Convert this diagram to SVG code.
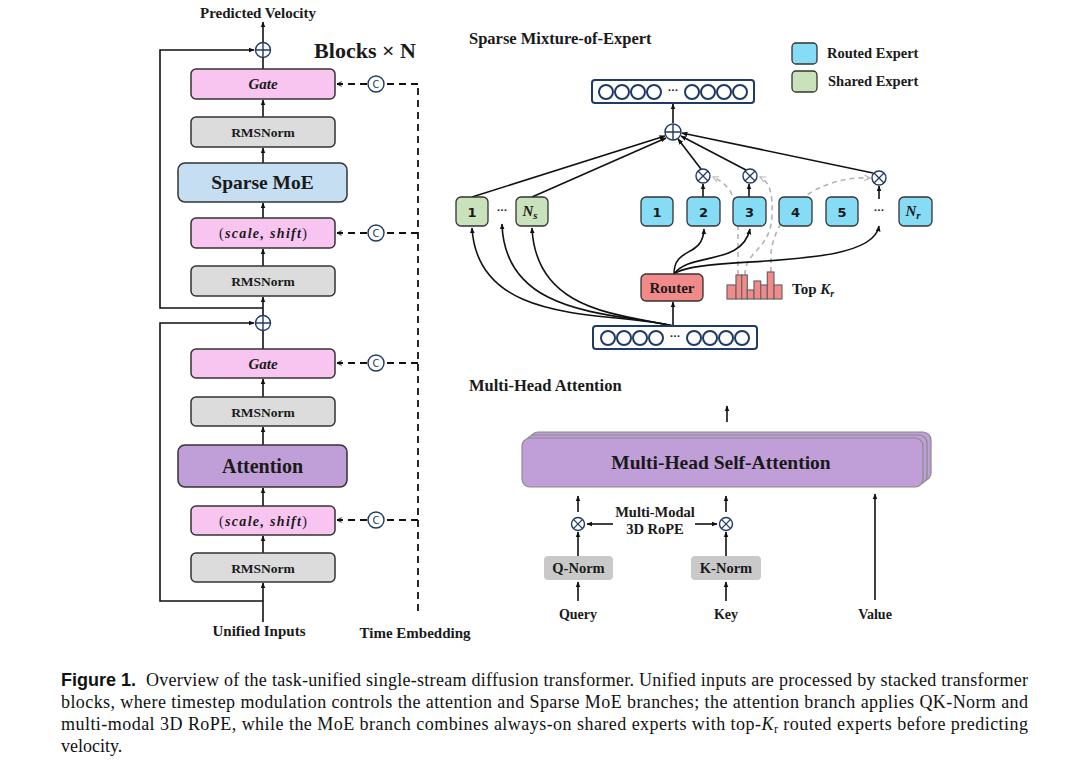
<svg xmlns="http://www.w3.org/2000/svg" width="1080" height="767" viewBox="0 0 1080 767">
<style>
.t{font-family:"Liberation Serif","Times New Roman",serif;font-weight:bold;fill:#1a1a1a}
.s{font-family:"DejaVu Sans","Liberation Sans",sans-serif;font-weight:bold;fill:#1a1a1a}
.mi{font-family:"Liberation Serif",serif;font-weight:bold;font-style:italic}
.box{stroke:#333;stroke-width:1.5}
.pink{fill:#F8C4F0}
.gray{fill:#DCDCDC}
.routed{fill:#86DBF5;stroke:#333;stroke-width:1.3}
.shared{fill:#C9E2BB;stroke:#333;stroke-width:1.3}
.ln{stroke:#111;stroke-width:1.6;fill:none}
.dash{stroke:#111;stroke-width:1.8;fill:none;stroke-dasharray:7,5}
.gdash{stroke:#B4B4B4;stroke-width:1.6;fill:none;stroke-dasharray:5,4}
.op{stroke:#1F3A64;stroke-width:1.4;fill:#fff}
.tok{stroke:#1F3A64;stroke-width:2;fill:#fff}
.cap{font-family:"Liberation Serif","Times New Roman",serif;font-size:18px;fill:#111}
</style>
<defs>
<marker id="ah" viewBox="0 0 10 10" refX="9" refY="5" markerWidth="6" markerHeight="6" markerUnits="userSpaceOnUse" orient="auto"><path d="M0,1 L10,5 L0,9 z" fill="#111"/></marker>
<marker id="ahg" viewBox="0 0 10 10" refX="9" refY="5" markerWidth="7" markerHeight="7" markerUnits="userSpaceOnUse" orient="auto"><path d="M1,1 L9,5 L1,9" fill="none" stroke="#B4B4B4" stroke-width="1.6"/></marker>
<marker id="aho" viewBox="0 0 10 10" refX="9" refY="5" markerWidth="6" markerHeight="6" markerUnits="userSpaceOnUse" orient="auto"><path d="M1,1 L9,5 L1,9" fill="none" stroke="#111" stroke-width="1.5"/></marker>
</defs>
<rect width="1080" height="767" fill="#fff"/>

<!-- connectors -->
<g id="connectors">
  <!-- left column main path -->
  <line class="ln" x1="263" y1="43" x2="263" y2="22" marker-end="url(#ah)"/>
  <line class="ln" x1="263" y1="69" x2="263" y2="58"/>
  <line class="ln" x1="263" y1="117" x2="263" y2="100" marker-end="url(#ah)"/>
  <line class="ln" x1="263" y1="163" x2="263" y2="148" marker-end="url(#ah)"/>
  <line class="ln" x1="263" y1="218" x2="263" y2="203" marker-end="url(#ah)"/>
  <line class="ln" x1="263" y1="266" x2="263" y2="249" marker-end="url(#ah)"/>
  <line class="ln" x1="263" y1="315" x2="263" y2="297" marker-end="url(#ah)"/>
  <polyline class="ln" points="263,308 160,308 160,50 254,50" marker-end="url(#ah)"/>
  <line class="ln" x1="263" y1="349" x2="263" y2="331"/>
  <line class="ln" x1="263" y1="397" x2="263" y2="379" marker-end="url(#ah)"/>
  <line class="ln" x1="263" y1="445" x2="263" y2="427" marker-end="url(#ah)"/>
  <line class="ln" x1="263" y1="506" x2="263" y2="488" marker-end="url(#ah)"/>
  <line class="ln" x1="263" y1="553" x2="263" y2="536" marker-end="url(#ah)"/>
  <line class="ln" x1="263" y1="622" x2="263" y2="583" marker-end="url(#ah)"/>
  <polyline class="ln" points="263,601 160,601 160,323 254,323" marker-end="url(#ah)"/>
  <!-- time embedding dashed -->
  <line class="dash" x1="418" y1="88" x2="418" y2="616"/>
  <line class="dash" x1="418" y1="84" x2="385" y2="84"/>
  <line class="dash" x1="367" y1="84" x2="337" y2="84" marker-end="url(#aho)"/>
  <line class="dash" x1="418" y1="233" x2="385" y2="233"/>
  <line class="dash" x1="367" y1="233" x2="337" y2="233" marker-end="url(#aho)"/>
  <line class="dash" x1="418" y1="363" x2="385" y2="363"/>
  <line class="dash" x1="367" y1="363" x2="337" y2="363" marker-end="url(#aho)"/>
  <line class="dash" x1="418" y1="520" x2="385" y2="520"/>
  <line class="dash" x1="367" y1="520" x2="337" y2="520" marker-end="url(#aho)"/>

  <!-- MoE: gray dashed top-K selections -->
  <path class="gdash" d="M738,275 L738,228 C738,200 731,185 713,177" marker-end="url(#ahg)"/>
  <path class="gdash" d="M745,275 C745,250 771,250 772,215 C773,195 770,182 760,177" marker-end="url(#ahg)"/>
  <path class="gdash" d="M771,272 L771,252 C774,228 790,206 810,193 C830,181 850,177 870,178" marker-end="url(#ahg)"/>

  <!-- MoE: combine into plus -->
  <line class="ln" x1="673" y1="123" x2="673" y2="104" marker-end="url(#ah)"/>
  <line class="ln" x1="472" y1="197" x2="665" y2="136" marker-end="url(#ah)"/>
  <line class="ln" x1="532" y1="197" x2="666" y2="138" marker-end="url(#ah)"/>
  <line class="ln" x1="701" y1="169" x2="678" y2="139" marker-end="url(#ah)"/>
  <line class="ln" x1="746" y1="170" x2="681" y2="136" marker-end="url(#ah)"/>
  <line class="ln" x1="873" y1="173" x2="682" y2="133" marker-end="url(#ah)"/>
  <!-- experts to multipliers -->
  <line class="ln" x1="703" y1="197" x2="703" y2="184" marker-end="url(#ah)"/>
  <line class="ln" x1="749" y1="197" x2="749" y2="184" marker-end="url(#ah)"/>
  <line class="ln" x1="879" y1="199" x2="879" y2="186" marker-end="url(#ah)"/>
  <!-- router to experts -->
  <path class="ln" d="M674,274 C674,246 703,258 704,229" marker-end="url(#ah)"/>
  <path class="ln" d="M674,274 C690,252 742,266 750,229" marker-end="url(#ah)"/>
  <path class="ln" d="M674,274 C700,254 872,272 879,226" marker-end="url(#ah)"/>
  <!-- tokens to router and shared experts -->
  <line class="ln" x1="673" y1="326" x2="673" y2="302" marker-end="url(#ah)"/>
  <path class="ln" d="M673,326 C610,310 478,328 472,228" marker-end="url(#ah)"/>
  <path class="ln" d="M673,326 C615,312 505,318 502,224" marker-end="url(#ah)"/>
  <path class="ln" d="M673,326 C620,314 536,312 532,228" marker-end="url(#ah)"/>

  <!-- attention -->
  <line class="ln" x1="727" y1="422" x2="727" y2="406" marker-end="url(#ah)"/>
  <line class="ln" x1="578" y1="512" x2="578" y2="496" marker-end="url(#ah)"/>
  <line class="ln" x1="726" y1="512" x2="726" y2="496" marker-end="url(#ah)"/>
  <line class="ln" x1="578" y1="556" x2="578" y2="532" marker-end="url(#ah)"/>
  <line class="ln" x1="726" y1="556" x2="726" y2="532" marker-end="url(#ah)"/>
  <line class="ln" x1="578" y1="601" x2="578" y2="582" marker-end="url(#ah)"/>
  <line class="ln" x1="726" y1="601" x2="726" y2="582" marker-end="url(#ah)"/>
  <line class="ln" x1="875" y1="600" x2="875" y2="494" marker-end="url(#ah)"/>
  <line class="ln" x1="613" y1="524" x2="587" y2="524" marker-end="url(#ah)"/>
  <line class="ln" x1="695" y1="524" x2="717" y2="524" marker-end="url(#ah)"/>
</g>

<!-- left column -->
<text class="t" x="258" y="18" font-size="15" text-anchor="middle">Predicted Velocity</text>
<text x="365" y="58" font-size="22" text-anchor="middle" font-family="Liberation Serif, serif" fill="#1a1a1a" font-weight="600">Blocks × N</text>

<g id="plus-top"><circle class="op" cx="263" cy="50" r="7.5"/><path d="M255.5,50 H270.5 M263,42.5 V57.5" stroke="#1F3A64" stroke-width="1.4"/></g>
<g id="gate-top"><rect class="box pink" x="191" y="69" width="144" height="30" rx="5"/><text class="mi" x="263" y="89" font-size="15" text-anchor="middle" fill="#1a1a1a">Gate</text></g>
<g id="rmsnorm-1"><rect class="box gray" x="191" y="117" width="144" height="30" rx="5"/><text class="t" x="263" y="137" font-size="13.5" text-anchor="middle">RMSNorm</text></g>
<g id="sparse-moe"><rect class="box" fill="#C5DEF1" x="178" y="163" width="169" height="39" rx="7"/><text class="t" x="262.5" y="189" font-size="19.5" text-anchor="middle">Sparse MoE</text></g>
<g id="scale-shift-1"><rect class="box pink" x="191" y="218" width="144" height="30" rx="5"/><text x="263" y="238" font-size="14" text-anchor="middle" textLength="88" font-family="Liberation Serif, serif" fill="#1a1a1a">(<tspan class="mi">scale, shift</tspan>)</text></g>
<g id="rmsnorm-2"><rect class="box gray" x="191" y="266" width="144" height="30" rx="5"/><text class="t" x="263" y="286" font-size="13.5" text-anchor="middle">RMSNorm</text></g>

<g id="plus-mid"><circle class="op" cx="263" cy="323" r="7.5"/><path d="M255.5,323 H270.5 M263,315.5 V330.5" stroke="#1F3A64" stroke-width="1.4"/></g>
<g id="gate-bottom"><rect class="box pink" x="191" y="349" width="144" height="29" rx="5"/><text class="mi" x="263" y="368.5" font-size="15" text-anchor="middle" fill="#1a1a1a">Gate</text></g>
<g id="rmsnorm-3"><rect class="box gray" x="191" y="397" width="144" height="29" rx="5"/><text class="t" x="263" y="416.5" font-size="13.5" text-anchor="middle">RMSNorm</text></g>
<g id="attention"><rect class="box" fill="#C09ED7" x="178" y="445" width="169" height="42" rx="7"/><text class="t" x="262.5" y="473" font-size="20" text-anchor="middle">Attention</text></g>
<g id="scale-shift-2"><rect class="box pink" x="191" y="506" width="144" height="29" rx="5"/><text x="263" y="525.5" font-size="14" text-anchor="middle" textLength="88" font-family="Liberation Serif, serif" fill="#1a1a1a">(<tspan class="mi">scale, shift</tspan>)</text></g>
<g id="rmsnorm-4"><rect class="box gray" x="191" y="553" width="144" height="29" rx="5"/><text class="t" x="263" y="572.5" font-size="13.5" text-anchor="middle">RMSNorm</text></g>

<g id="concat-1"><circle class="op" cx="376" cy="84" r="8"/><text x="376" y="88" font-size="10" text-anchor="middle" font-family="DejaVu Sans, sans-serif" fill="#1F3A64">C</text></g>
<g id="concat-2"><circle class="op" cx="376" cy="233" r="8"/><text x="376" y="237" font-size="10" text-anchor="middle" font-family="DejaVu Sans, sans-serif" fill="#1F3A64">C</text></g>
<g id="concat-3"><circle class="op" cx="376" cy="363" r="8"/><text x="376" y="367" font-size="10" text-anchor="middle" font-family="DejaVu Sans, sans-serif" fill="#1F3A64">C</text></g>
<g id="concat-4"><circle class="op" cx="376" cy="520" r="8"/><text x="376" y="524" font-size="10" text-anchor="middle" font-family="DejaVu Sans, sans-serif" fill="#1F3A64">C</text></g>

<text class="t" x="259" y="636" font-size="15" text-anchor="middle">Unified Inputs</text>
<text class="t" x="415" y="638" font-size="15" text-anchor="middle">Time Embedding</text>

<!-- MoE section -->
<text class="t" x="469" y="44" font-size="16.5">Sparse Mixture-of-Expert</text>
<g id="legend-routed"><rect class="routed" x="792" y="43" width="25" height="21" rx="4"/><text class="t" x="827" y="58" font-size="14.5">Routed Expert</text></g>
<g id="legend-shared"><rect class="shared" x="792" y="71" width="25" height="21" rx="4"/><text class="t" x="828" y="86" font-size="14.5">Shared Expert</text></g>

<g id="tokens-out">
  <rect class="tok" x="592" y="80" width="162" height="23" rx="3"/>
  <circle class="tok" cx="606" cy="92" r="7"/><circle class="tok" cx="622" cy="92" r="7"/><circle class="tok" cx="638" cy="92" r="7"/><circle class="tok" cx="654" cy="92" r="7"/>
  <text class="s" x="673" y="93" font-size="9" text-anchor="middle">···</text>
  <circle class="tok" cx="692" cy="92" r="7"/><circle class="tok" cx="708" cy="92" r="7"/><circle class="tok" cx="724" cy="92" r="7"/><circle class="tok" cx="740" cy="92" r="7"/>
</g>
<g id="moe-sum"><circle class="op" cx="673" cy="132" r="8"/><path d="M665,132 H681 M673,124 V140" stroke="#1F3A64" stroke-width="1.4"/></g>
<g id="mul-2"><circle class="op" cx="703" cy="176" r="7"/><path d="M698,171 L708,181 M708,171 L698,181" stroke="#1F3A64" stroke-width="1.3"/></g>
<g id="mul-3"><circle class="op" cx="750" cy="176" r="7"/><path d="M745,171 L755,181 M755,171 L745,181" stroke="#1F3A64" stroke-width="1.3"/></g>
<g id="mul-n"><circle class="op" cx="879" cy="178" r="7"/><path d="M874,173 L884,183 M884,173 L874,183" stroke="#1F3A64" stroke-width="1.3"/></g>

<g id="shared-1"><rect class="shared" x="456" y="197" width="32" height="29" rx="5"/><text class="s" x="472" y="216.5" font-size="13" text-anchor="middle">1</text></g>
<text class="s" x="502" y="213" font-size="9" text-anchor="middle">···</text>
<g id="shared-ns"><rect class="shared" x="516" y="197" width="32" height="29" rx="5"/><text class="mi" x="530" y="216" font-size="15" text-anchor="middle" fill="#1a1a1a">N<tspan font-size="11" dy="3">s</tspan></text></g>

<g id="routed-1"><rect class="routed" x="641" y="197" width="32" height="29" rx="5"/><text class="s" x="657" y="216.5" font-size="13" text-anchor="middle">1</text></g>
<g id="routed-2"><rect class="routed" x="687" y="197" width="33" height="29" rx="5"/><text class="s" x="703.5" y="216.5" font-size="13" text-anchor="middle">2</text></g>
<g id="routed-3"><rect class="routed" x="733" y="197" width="33" height="29" rx="5"/><text class="s" x="749.5" y="216.5" font-size="13" text-anchor="middle">3</text></g>
<g id="routed-4"><rect class="routed" x="779" y="197" width="33" height="29" rx="5"/><text class="s" x="795.5" y="216.5" font-size="13" text-anchor="middle">4</text></g>
<g id="routed-5"><rect class="routed" x="826" y="197" width="32" height="29" rx="5"/><text class="s" x="842" y="216.5" font-size="13" text-anchor="middle">5</text></g>
<text class="s" x="879" y="213" font-size="9" text-anchor="middle">···</text>
<g id="routed-nr"><rect class="routed" x="899" y="197" width="33" height="29" rx="5"/><text class="mi" x="913" y="216" font-size="15" text-anchor="middle" fill="#1a1a1a">N<tspan font-size="11" dy="3">r</tspan></text></g>

<g id="router"><rect fill="#F28A8A" stroke="#333" stroke-width="1.3" x="641" y="274" width="62" height="27" rx="5"/><text class="t" x="672" y="292.5" font-size="15" text-anchor="middle">Router</text></g>
<g id="topk-hist" fill="#F28A8A" stroke="#666" stroke-width="1.2">
  <rect x="727" y="285" width="9" height="14"/>
  <rect x="736" y="275" width="5.7" height="24"/>
  <rect x="741.7" y="275" width="5.6" height="24"/>
  <rect x="747.3" y="290" width="6.7" height="9"/>
  <rect x="754" y="281" width="6.7" height="18"/>
  <rect x="760.7" y="285" width="6.6" height="14"/>
  <rect x="767.3" y="272" width="6.7" height="27"/>
  <rect x="774" y="285" width="8" height="14"/>
</g>
<text class="t" x="792" y="294" font-size="15">Top <tspan class="mi">K<tspan font-size="10" dy="3">r</tspan></tspan></text>

<g id="tokens-in">
  <rect class="tok" x="593" y="326" width="164" height="23" rx="3"/>
  <circle class="tok" cx="608" cy="338" r="7"/><circle class="tok" cx="624" cy="338" r="7"/><circle class="tok" cx="640" cy="338" r="7"/><circle class="tok" cx="656" cy="338" r="7"/>
  <text class="s" x="675" y="339" font-size="9" text-anchor="middle">···</text>
  <circle class="tok" cx="694" cy="338" r="7"/><circle class="tok" cx="710" cy="338" r="7"/><circle class="tok" cx="726" cy="338" r="7"/><circle class="tok" cx="742" cy="338" r="7"/>
</g>

<!-- Attention section -->
<text class="t" x="469" y="391" font-size="16.5">Multi-Head Attention</text>
<g id="mhsa">
  <rect x="530" y="432" width="401" height="49" rx="8" fill="#C09ED7" stroke="#8a8a8a" stroke-width="1.2"/>
  <rect x="526" y="435" width="401" height="49" rx="8" fill="#C09ED7" stroke="#8a8a8a" stroke-width="1.2"/>
  <rect x="522" y="438" width="401" height="49" rx="8" fill="#C09ED7" stroke="#8a8a8a" stroke-width="1.2"/>
  <text class="t" x="721" y="469" font-size="19.5" text-anchor="middle">Multi-Head Self-Attention</text>
</g>
<g id="rope-q"><circle class="op" cx="578" cy="524" r="6.5"/><path d="M573.4,519.4 L582.6,528.6 M582.6,519.4 L573.4,528.6" stroke="#1F3A64" stroke-width="1.3"/></g>
<g id="rope-k"><circle class="op" cx="726" cy="524" r="6.5"/><path d="M721.4,519.4 L730.6,528.6 M730.6,519.4 L721.4,528.6" stroke="#1F3A64" stroke-width="1.3"/></g>
<text class="t" x="655" y="517" font-size="14.5" text-anchor="middle">Multi-Modal</text>
<text class="t" x="655" y="534" font-size="14.5" text-anchor="middle">3D RoPE</text>
<g id="q-norm"><rect x="544" y="556" width="69" height="24" rx="4" fill="#C9C9C9"/><text class="t" x="578.5" y="573" font-size="14.5" text-anchor="middle">Q-Norm</text></g>
<g id="k-norm"><rect x="691" y="556" width="70" height="24" rx="4" fill="#C9C9C9"/><text class="t" x="726" y="573" font-size="14.5" text-anchor="middle">K-Norm</text></g>
<text class="t" x="578" y="619" font-size="14" text-anchor="middle">Query</text>
<text class="t" x="726" y="619" font-size="14" text-anchor="middle">Key</text>
<text class="t" x="875" y="619" font-size="14" text-anchor="middle">Value</text>

<!-- caption -->
<text x="61" y="686" font-family="Liberation Sans, Arial, sans-serif" font-weight="bold" font-size="18" fill="#111">Figure 1.</text>
<text class="cap" x="146" y="686" textLength="882">Overview of the task-unified single-stream diffusion transformer. Unified inputs are processed by stacked transformer</text>
<text class="cap" x="61" y="708" textLength="967">blocks, where timestep modulation controls the attention and Sparse MoE branches; the attention branch applies QK-Norm and</text>
<text class="cap" x="61" y="730" textLength="967">multi-modal 3D RoPE, while the MoE branch combines always-on shared experts with top-<tspan font-style="italic">K</tspan><tspan font-size="12" dy="3">r</tspan><tspan dy="-3"> routed experts before predicting</tspan></text>
<text class="cap" x="61" y="752">velocity.</text>
</svg>
